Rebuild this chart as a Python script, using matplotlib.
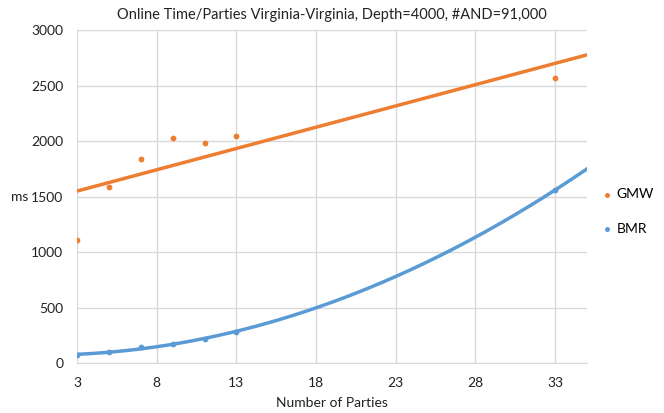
import numpy as np
import matplotlib
matplotlib.use('Agg')
import matplotlib.pyplot as plt

parties = [3, 5, 7, 9, 11, 13, 33]
gmw = [1110, 1585, 1835, 2025, 1980, 2050, 2565]
bmr = [70, 100, 140, 170, 220, 280, 1560]
xticks = [3, 8, 13, 18, 23, 28, 33]
yticks = [0, 500, 1000, 1500, 2000, 2500, 3000]

orange = '#ED7D31'
blue = '#5B9BD5'

plt.rcParams['font.family'] = ['Lato', 'DejaVu Sans']

fig = plt.figure(figsize=(6.64, 4.13), dpi=100)
ax = fig.add_axes([0.116, 0.121, 0.768, 0.806])

# trendlines like excel: linear for GMW, 2nd order poly for BMR, forecast to 35
xs = np.linspace(3, 35, 200)
ax.plot(xs, np.polyval(np.polyfit(parties, gmw, 1), xs), color=orange, lw=2.5, zorder=2)
ax.plot(xs, np.polyval(np.polyfit(parties, bmr, 2), xs), color=blue, lw=2.5, zorder=2)

ax.scatter(parties, gmw, s=10, color=orange, label='GMW', zorder=3)
ax.scatter(parties, bmr, s=10, color=blue, label='BMR', zorder=3)

ax.set_xlim(3, 35)
ax.set_ylim(0, 3000)
ax.set_xticks(xticks)
ax.set_yticks(yticks)
ax.grid(True, color='#D9D9D9', lw=1)
ax.set_axisbelow(True)
for s in ['top', 'right', 'left']:
    ax.spines[s].set_visible(False)
ax.spines['bottom'].set_color('#D9D9D9')
ax.tick_params(length=0, labelsize=10, colors='#222222')
ax.tick_params(axis='x', pad=10)
ax.tick_params(axis='y', pad=10)

ax.set_title('Online Time/Parties Virginia-Virginia, Depth=4000, #AND=91,000',
             fontsize=10.5, color='#222222', pad=8)
ax.set_xlabel('Number of Parties', fontsize=10, color='#222222', labelpad=6)
ax.set_ylabel('ms', fontsize=10, color='#222222', rotation=0, va='center', ha='center')
ax.yaxis.set_label_coords(-0.112, 0.5)

ax.legend(loc='center left', bbox_to_anchor=(1.015, 0.455), frameon=False,
          fontsize=10, markerscale=0.8, handlelength=1.0, handletextpad=0.2,
          labelspacing=1.6, borderaxespad=0)

fig.savefig('out.png', dpi=100)
